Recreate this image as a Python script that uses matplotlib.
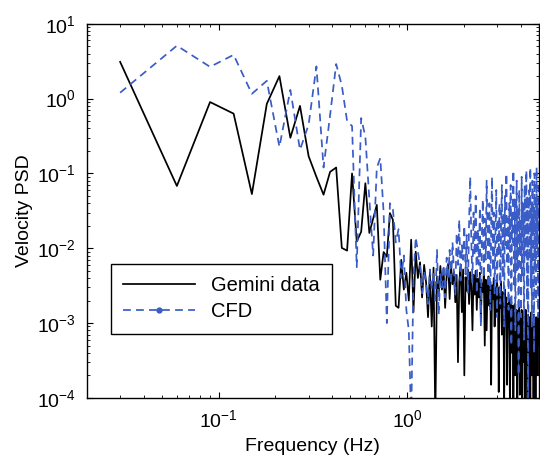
import numpy as np
import matplotlib.pyplot as plt
from matplotlib.lines import Line2D

plt.rcParams['font.family'] = ['Liberation Sans', 'DejaVu Sans']
plt.rcParams['mathtext.default'] = 'regular'

# frequency grid, df = 0.03 Hz
df = 0.03
n_points = 166
freq = df * np.arange(1, n_points + 1)

gemini = [
    3.1, 0.068, 0.9, 0.63, 0.053, 0.85, 2.0, 0.3, 0.8, 0.17,
    0.09, 0.052, 0.105, 0.12, 0.0101, 0.0093, 0.1, 0.0123, 0.0166, 0.074,
    0.016, 0.025, 0.038, 0.0038, 0.0089, 0.0077, 0.0295, 0.024, 0.0017, 0.0016,
    0.007, 0.0028, 0.0047, 0.002, 0.013, 0.0014, 0.009, 0.004, 0.0065, 0.0022,
    0.006, 0.0035, 0.0012, 0.0048, 0.0009, 0.0055, 0.00005, 0.0042, 0.0025, 0.0058,
    0.0028, 0.0052, 0.0016, 0.0045, 0.0062, 0.0021, 0.0056, 0.0033, 0.0048, 0.0019,
    0.0044, 0.0003, 0.0036, 0.0056, 0.0014, 0.0052, 0.0002, 0.0041, 0.0027, 0.0052,
    0.0018, 0.0048, 0.0031, 0.0008, 0.0044, 0.0024, 0.0050, 0.0015, 0.0039, 0.0022,
    0.0047, 0.0011, 0.0034, 0.0026, 0.0045, 0.0005, 0.0038, 0.0008, 0.0031, 0.0042,
    0.0017, 0.0036, 0.00015, 0.0032, 0.0021, 0.0040, 0.0009, 0.0030, 0.0014, 0.0035,
    0.0025, 0.00012, 0.0030, 0.0016, 0.0036, 0.0007, 0.0026, 0.0019, 0.00008, 0.0028,
    0.0012, 0.0022, 0.00015, 0.0018, 0.0009, 0.0021, 0.00006, 0.0016, 0.0019, 0.0004,
    0.0017, 0.00009, 0.0012, 0.0018, 0.0002, 0.0011, 0.0015, 0.00007, 0.0014, 0.0006,
    0.0016, 0.00011, 0.0012, 0.0005, 0.0015, 0.00005, 0.0010, 0.0014, 0.0003, 0.0012,
    0.00008, 0.0015, 0.0007, 0.0011, 0.00006, 0.0013, 0.0004, 0.0009, 0.0012, 0.00009,
    0.0010, 0.0014, 0.0002, 0.0007, 0.0011, 0.00007, 0.0013, 0.0004, 0.0009, 0.00005,
    0.0012, 0.0006, 0.0010, 0.0002, 0.0012, 0.0005,
]

# CFD PSD
cfd = [
    1.2, 5.1, 2.66, 3.85, 1.16, 1.73, 0.227, 1.31, 0.207, 0.45,
    2.7, 0.12, 0.6, 2.9, 1.5, 0.5, 0.43, 0.0056, 0.55, 0.31,
    0.045, 0.008, 0.12, 0.16, 0.03, 0.001, 0.04, 0.033, 0.012, 0.018,
    0.004, 0.008, 0.0015, 0.0008, 0.00005, 0.004, 0.014, 0.009, 0.006, 0.0025,
    0.005, 0.0035, 0.0018, 0.0052, 0.0028, 0.0047, 0.002, 0.0095, 0.0013, 0.0045,
    0.003, 0.006, 0.0022, 0.0075, 0.004, 0.0095, 0.0033, 0.012, 0.005, 0.0024,
    0.016, 0.006, 0.024, 0.0037, 0.011, 0.007, 0.02, 0.0045, 0.015, 0.0025,
    0.022, 0.09, 0.012, 0.0035, 0.03, 0.008, 0.05, 0.0025, 0.018, 0.006,
    0.035, 0.0009, 0.015, 0.045, 0.004, 0.025, 0.007, 0.08, 0.012, 0.003,
    0.04, 0.0015, 0.02, 0.09, 0.005, 0.03, 0.0025, 0.015, 0.06, 0.0012,
    0.025, 0.008, 0.04, 0.0018, 0.02, 0.07, 0.004, 0.03, 0.0009, 0.05,
    0.011, 0.1, 0.006, 0.025, 0.0015, 0.04, 0.009, 0.07, 0.0005, 0.03,
    0.012, 0.11, 0.003, 0.045, 0.0008, 0.02, 0.08, 0.005, 0.035, 0.0002,
    0.06, 0.01, 0.025, 0.0012, 0.09, 0.004, 0.04, 0.015, 0.0006, 0.07,
    0.008, 0.03, 0.11, 0.002, 0.05, 0.0001, 0.025, 0.06, 0.007, 0.12,
    0.003, 0.04, 0.0009, 0.08, 0.015, 0.035, 0.0004, 0.1, 0.006, 0.05,
    0.002, 0.12, 0.01, 0.04, 0.0012, 0.07,
]

blue = '#3a5cc6'

fig = plt.figure(figsize=(5.4, 4.67), dpi=100)
ax = fig.add_axes([0.161, 0.148, 0.837, 0.801])

ax.loglog(freq, gemini, color='black', lw=1.25)
ax.loglog(freq, cfd, color=blue, lw=1.25, dashes=(4.5, 3))

ax.set_xlim(0.02, 5)
ax.set_ylim(1e-4, 10)

ax.set_xlabel('Frequency (Hz)', fontsize=14, labelpad=5)
ax.set_ylabel('Velocity PSD', fontsize=14, labelpad=3)

ax.tick_params(which='both', direction='in', top=True, right=True)
ax.tick_params(which='major', length=4, labelsize=14)
ax.tick_params(axis='x', which='major', pad=8)
ax.tick_params(axis='y', which='major', pad=8)
ax.tick_params(which='minor', length=2)
for s in ax.spines.values():
    s.set_linewidth(1.0)

handles = [
    Line2D([], [], color='black', lw=1.25),
    Line2D([], [], color=blue, lw=1.25, dashes=(4.5, 3), marker='o', ms=3.5),
]
leg = ax.legend(handles, ['Gemini data', 'CFD'], loc='lower left',
                bbox_to_anchor=(0.03, 0.145), fontsize=14.5, handlelength=3.6,
                numpoints=1, fancybox=False, edgecolor='black', framealpha=1,
                borderpad=0.6, labelspacing=0.35)
leg.get_frame().set_linewidth(1.0)

fig.savefig('out.png', dpi=100)
